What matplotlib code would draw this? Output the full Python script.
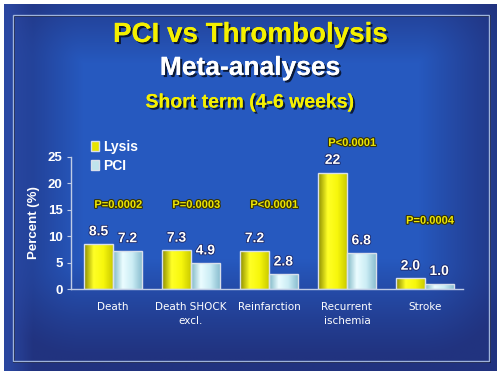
import numpy as np
import matplotlib
matplotlib.use("Agg")
import matplotlib.pyplot as plt
import matplotlib.patheffects as pe
from matplotlib.colors import LinearSegmentedColormap
from matplotlib.patches import Rectangle, Patch

# data
categories = ["Death", "Death SHOCK\nexcl.", "Reinfarction", "Recurrent\nischemia", "Stroke"]
lysis = [8.5, 7.3, 7.2, 22, 2.0]
pci = [7.2, 4.9, 2.8, 6.8, 1.0]
lysis_labels = ["8.5", "7.3", "7.2", "22", "2.0"]
pci_labels = ["7.2", "4.9", "2.8", "6.8", "1.0"]
p_values = ["P=0.0002", "P=0.0003", "P<0.0001", "P<0.0001", "P=0.0004"]
p_y = [15.9, 15.9, 15.9, 27.6, 12.9]
yticks = [0, 5, 10, 15, 20, 25]

W, H = 500, 375
fig = plt.figure(figsize=(5, 3.75), dpi=100)
fig.patch.set_facecolor("white")

# slide background
bg = fig.add_axes([0, 0, 1, 1])
bg.set_xlim(0, W)
bg.set_ylim(H, 0)
bg.axis("off")
yy, xx = np.mgrid[0:H, 0:W]
dx = np.clip(np.maximum(80 - xx, xx - 420), 0, None) / 100.0
dy = np.clip(np.maximum(60 - yy, yy - 260), 0, None) / 100.0
glow = np.clip(1 - np.sqrt(dx ** 2 + dy ** 2), 0, 1) ** 1.2
c0 = np.array([0.13, 0.2, 0.5])
c1 = np.array([0.15, 0.35, 0.75])
img = c0[None, None, :] * (1 - glow[..., None]) + c1[None, None, :] * glow[..., None]
left_strip = np.clip(1 - (xx - 4) / 25.0, 0, 1) * 0.5
img = img * (1 - left_strip[..., None]) + np.array([0.2, 0.35, 0.75]) * left_strip[..., None]
bg.imshow(img, extent=[4, 497, 371, 4], aspect="auto", zorder=0)
bg.add_patch(Rectangle((14, 16), 476, 346, fill=False, ec=(0.05, 0.07, 0.2), lw=1.2, zorder=1))
bg.add_patch(Rectangle((13, 15), 476, 346, fill=False, ec=(0.62, 0.7, 0.86), lw=1.0, zorder=2))

shadow = [pe.withSimplePatchShadow(offset=(1.5, -1.5), shadow_rgbFace="black", alpha=0.7), pe.Normal()]
fig.text(0.5, 1 - 35 / H, "PCI vs Thrombolysis", ha="center", va="center", color="#f5f000",
         fontsize=20, fontweight="bold", family="Liberation Sans", path_effects=shadow)
fig.text(0.5, 1 - 68 / H, "Meta-analyses", ha="center", va="center", color="white",
         fontsize=19, fontweight="bold", family="Liberation Sans", path_effects=shadow)
fig.text(0.5, 1 - 103 / H, "Short term (4-6 weeks)", ha="center", va="center", color="#f5f000",
         fontsize=14, fontweight="bold", family="Liberation Sans", path_effects=shadow)

# chart
ax = fig.add_axes([71 / W, 86 / H, 392 / W, 132.3 / H])
ax.patch.set_alpha(0)
x = np.arange(len(categories))
bw = 0.37
b1 = ax.bar(x - bw / 2, lysis, bw, color="none", edgecolor=(0.85, 0.88, 0.92), linewidth=1, zorder=3)
b2 = ax.bar(x + bw / 2, pci, bw, color="none", edgecolor=(0.85, 0.88, 0.92), linewidth=1, zorder=3)

cm_lysis = LinearSegmentedColormap.from_list("lysis", [(0.55, 0.55, 0.0), (1.0, 1.0, 0.15), (0.97, 0.97, 0.05), (0.8, 0.8, 0.0)])
cm_pci = LinearSegmentedColormap.from_list("pci", [(0.5, 0.72, 0.78), (0.92, 0.99, 1.0), (0.8, 0.93, 0.96), (0.55, 0.75, 0.82)])
grad = np.linspace(0, 1, 64)[None, :]
for bars, cm in ((b1, cm_lysis), (b2, cm_pci)):
    for b in bars:
        bx, by = b.get_x(), b.get_y()
        im = ax.imshow(grad, cmap=cm, aspect="auto", zorder=2,
                       extent=[bx, bx + b.get_width(), by, by + b.get_height()])
        im.set_clip_path(b)

valfont = dict(color="white", fontsize=10, fontweight="bold", family="Liberation Sans",
               ha="center", va="center", path_effects=[pe.withStroke(linewidth=1.2, foreground=(0.1, 0.15, 0.4))])
for i in range(len(categories)):
    ax.text(x[i] - bw / 2, lysis[i] + 2.4, lysis_labels[i], **valfont)
    ax.text(x[i] + bw / 2, pci[i] + 2.4, pci_labels[i], **valfont)
    ax.text(x[i] + 0.07, p_y[i], p_values[i], color="#f0e800", fontsize=8, fontweight="bold",
            family="Liberation Sans", ha="center", va="center", clip_on=False,
            path_effects=[pe.withStroke(linewidth=1.6, foreground=(0.2, 0.2, 0.05))])

ax.set_xlim(-0.54, 4.49)
ax.set_ylim(0, 25)
ax.set_yticks(yticks)
ax.set_xticks(x)
ax.set_xticklabels(categories, color="white", fontsize=7.5, family="DejaVu Sans", linespacing=1.5)
ax.tick_params(axis="x", length=0, pad=9)
ax.tick_params(axis="y", length=3, color=(0.75, 0.8, 0.9), pad=3)
for lab in ax.get_yticklabels():
    lab.set_color("white")
    lab.set_fontsize(9.5)
    lab.set_fontweight("bold")
    lab.set_family("Liberation Sans")
ax.set_ylabel("Percent (%)", color="white", fontsize=9.5, fontweight="bold", family="Liberation Sans", labelpad=6)
for s in ("top", "right"):
    ax.spines[s].set_visible(False)
for s in ("left", "bottom"):
    ax.spines[s].set_color((0.75, 0.8, 0.9))
    ax.spines[s].set_linewidth(1)

handles = [Patch(facecolor="#e8e400", edgecolor=(0.85, 0.88, 0.92), label="Lysis"),
           Patch(facecolor="#bfe3ec", edgecolor=(0.85, 0.88, 0.92), label="PCI")]
leg = fig.legend(handles=handles, loc="upper left", bbox_to_anchor=(91 / W, 1 - 140 / H),
                 frameon=False, handlelength=0.55, handleheight=0.8, handletextpad=0.3,
                 labelspacing=0.35, borderpad=0, borderaxespad=0,
                 prop=dict(family="Liberation Sans", weight="bold", size=10))
for t in leg.get_texts():
    t.set_color("white")

fig.savefig("out.png", dpi=100)
